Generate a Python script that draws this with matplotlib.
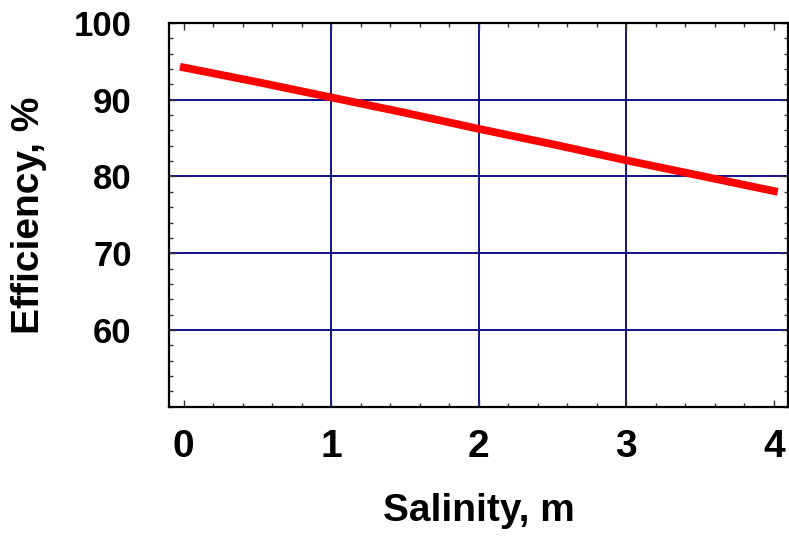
import numpy as np
import matplotlib.pyplot as plt
from matplotlib.ticker import MultipleLocator

plt.rcParams['font.family'] = ['Liberation Sans', 'DejaVu Sans']
plt.rcParams['font.weight'] = 'bold'

# data
salinity = [0, 0.5, 1, 1.5, 2, 2.5, 3, 3.5, 4]
efficiency = [94.2, 92.3, 90.3, 88.3, 86.2, 84.2, 82.1, 80.1, 78.1]

x_ticks = [0, 1, 2, 3, 4]
y_ticks = [60, 70, 80, 90, 100]

fig = plt.figure(figsize=(7.89, 5.37), dpi=100)
ax = fig.add_axes([0.2142, 0.2426, 0.7845, 0.7146])

ax.plot(salinity, efficiency, color='#ff0000', lw=5.6, solid_capstyle='projecting', zorder=3)

ax.set_xlim(-0.1, 4.095)
ax.set_ylim(50, 100)
ax.set_xticks(x_ticks)
ax.set_yticks(y_ticks)
ax.xaxis.set_minor_locator(MultipleLocator(0.2))
ax.yaxis.set_minor_locator(MultipleLocator(2))

ax.grid(True, which='major', color='#000080', lw=1.3)
# no grid lines on the outer ticks
gx = ax.xaxis.get_gridlines()
gx[0].set_visible(False)
gx[-1].set_visible(False)
ax.yaxis.get_gridlines()[-1].set_visible(False)

ax.tick_params(which='both', direction='in', top=True, right=True, color='#333333', width=1)
ax.tick_params(which='major', length=5)
ax.tick_params(which='minor', length=3)
ax.tick_params(axis='x', which='major', labelsize=28, pad=16)
ax.tick_params(axis='y', which='major', labelsize=25, pad=27)

for s in ax.spines.values():
    s.set_linewidth(1.6)
    s.set_color('black')

ax.set_xlabel('Salinity, m', fontsize=28, fontweight='bold', labelpad=20)
ax.set_ylabel('Efficiency, %', fontsize=28, fontweight='bold', labelpad=19)

fig.savefig('out.png', dpi=100)
